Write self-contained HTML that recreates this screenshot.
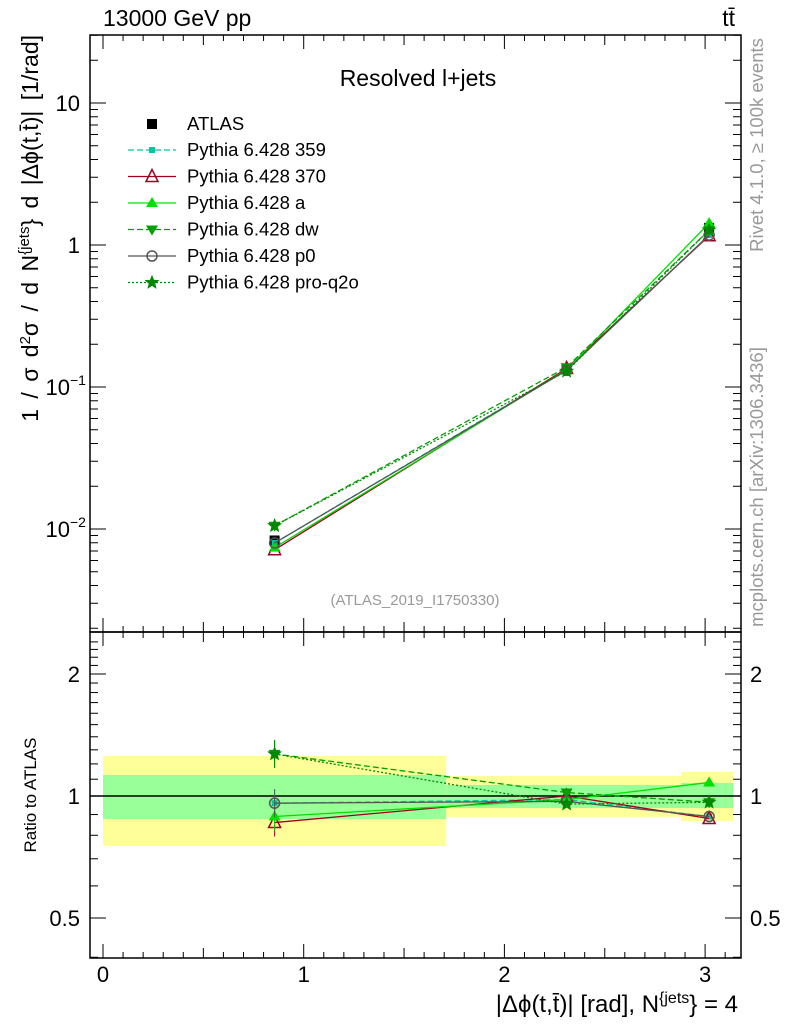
<!DOCTYPE html>
<html><head><meta charset="utf-8"><style>
body{margin:0;background:#fff}
svg{display:block;font-family:"Liberation Sans",sans-serif}
</style></head><body>
<svg id="c" width="786" height="1024" viewBox="0 0 786 1024">
<g id="g"></g>
</svg>
<script>
const xCenters=[0.855,2.31,3.02];
const binEdges=[0,1.71,2.88,3.14];
const atlasVals=[0.0083,0.135,1.32];
const yellowHi=[1.255,1.12,1.146];
const yellowLo=[0.753,0.888,0.868];
const greenHi=[1.127,1.065,1.077];
const greenLo=[0.877,0.934,0.934];
const r359=[0.96,0.98,0.89];
const r370=[0.86,1.0,0.88];
const rA=[0.89,0.98,1.08];
const rDw=[1.27,1.02,0.965];
const rP0=[0.96,0.97,0.89];
const rQ2o=[1.27,0.955,0.965];
const xTicks=[0,1,2,3];
const ratioTicks=[0.5,1,2];

const NS="http://www.w3.org/2000/svg";
const G=document.getElementById('g');
const L=90,R=741,T=35,MB=632,RB=958;
const X=v=>103+v*200.7;
const YM=v=>245-142*Math.log10(v);
const YR=v=>796-122*Math.log2(v);
function el(t,a,p){const e=document.createElementNS(NS,t);for(const k in a)e.setAttribute(k,a[k]);(p||G).appendChild(e);return e;}
function txt(s,a){const e=el('text',a);e.textContent=s;return e;}

for(let i=0;i<3;i++){
 const b=el('rect',{x:X(binEdges[i]),y:YR(yellowHi[i]),width:X(binEdges[i+1])-X(binEdges[i]),height:YR(yellowLo[i])-YR(yellowHi[i]),fill:'#ffff99'});
 
 
 const g2=el('rect',{x:X(binEdges[i]),y:YR(greenHi[i]),width:X(binEdges[i+1])-X(binEdges[i]),height:YR(greenLo[i])-YR(greenHi[i]),fill:'#99ff99'});
 
 
}
el('line',{x1:L,x2:R,y1:796,y2:796,stroke:'#000','stroke-width':1.5});

el('rect',{x:L,y:T,width:R-L,height:MB-T,fill:'none',stroke:'#000','stroke-width':1.5});
el('rect',{x:L,y:MB,width:R-L,height:RB-MB,fill:'none',stroke:'#000','stroke-width':1.5});

for(let k=0;k<=31;k++){const v=k/10,x=X(v);if(x>R)break;const len=k%10==0?14:(k%5==0?10:6);
 [[MB,MB-len],[T,T+len],[RB,RB-len],[MB,MB+len]].forEach(([a,b])=>el('line',{x1:x,x2:x,y1:a,y2:b,stroke:'#000'}));}
xTicks.forEach(v=>{const t=txt(v,{x:X(v),y:982,'font-size':22,'text-anchor':'middle'});});

for(let d=-3;d<=1;d++)for(let m=1;m<10;m++){const v=m*Math.pow(10,d),y=YM(v);if(y<T||y>MB)continue;const len=m==1?16:8;
 el('line',{x1:L,x2:L+len,y1:y,y2:y,stroke:'#000'});el('line',{x1:R,x2:R-len,y1:y,y2:y,stroke:'#000'});}
[[10,'10'],[1,'1']].forEach(([v,s])=>{txt(s,{x:80,y:YM(v)+8,'font-size':22,'text-anchor':'end'});});
[[0.1,'−1'],[0.01,'−2']].forEach(([v,s])=>{txt('10',{x:70,y:YM(v)+8,'font-size':22,'text-anchor':'end'});txt(s,{x:70,y:YM(v)-2,'font-size':14,'text-anchor':'start'});});

for(let v=0.4;v<=2.5;v+=0.1){const vv=Math.round(v*10)/10;const y=YR(vv);if(y<MB||y>RB)continue;const maj=[0.5,1,2].includes(vv);const len=maj?16:8;
 el('line',{x1:L,x2:L+len,y1:y,y2:y,stroke:'#000'});el('line',{x1:R,x2:R-len,y1:y,y2:y,stroke:'#000'});}
ratioTicks.forEach(v=>{txt(v,{x:80,y:YR(v)+8,'font-size':22,'text-anchor':'end'});txt(v,{x:750,y:YR(v)+8,'font-size':22});});

const series=[
 {n:'359',r:r359,c:'#00c8a0',dash:'6,3',m:'sq'},
 {n:'370',r:r370,c:'#a00020',dash:'',m:'tri-o'},
 {n:'a',r:rA,c:'#00e000',dash:'',m:'tri'},
 {n:'dw',r:rDw,c:'#00a000',dash:'6,3',m:'tri-d'},
 {n:'p0',r:rP0,c:'#555',dash:'',m:'circ'},
 {n:'pro-q2o',r:rQ2o,c:'#008800',dash:'2,2',m:'star'}];
function marker(m,x,y,c,s){s=s||6;
 if(m=='sq')return el('rect',{x:x-3,y:y-3,width:6,height:6,fill:c});
 if(m=='tri-o')return el('polygon',{points:`${x},${y-s-1} ${x-s},${y+s-1} ${x+s},${y+s-1}`,fill:'none',stroke:c,'stroke-width':1.5});
 if(m=='tri')return el('polygon',{points:`${x},${y-s} ${x-s},${y+s-2} ${x+s},${y+s-2}`,fill:c});
 if(m=='tri-d')return el('polygon',{points:`${x},${y+s} ${x-s},${y-s+2} ${x+s},${y-s+2}`,fill:c});
 if(m=='circ')return el('circle',{cx:x,cy:y,r:5,fill:'none',stroke:c,'stroke-width':1.5});
 if(m=='star'){let p=[];for(let i=0;i<10;i++){const a=-Math.PI/2+i*Math.PI/5,rr=i%2?2.8:6.5;p.push((x+rr*Math.cos(a)).toFixed(1)+','+(y+rr*Math.sin(a)).toFixed(1));}return el('polygon',{points:p.join(' '),fill:c,stroke:c});}
 if(m=='atlas')return el('rect',{x:x-5,y:y-5,width:10,height:10,fill:'#000'});
}
atlasVals.forEach((v,i)=>{const m=marker('atlas',X(xCenters[i]),YM(v));});
series.forEach(s=>{
 const pm=xCenters.map((x,i)=>X(x)+','+YM(atlasVals[i]*s.r[i])).join(' ');
 const l1=el('polyline',{points:pm,fill:'none',stroke:s.c,'stroke-width':1.3,'stroke-dasharray':s.dash});
 
 
 const pr=xCenters.map((x,i)=>X(x)+','+YR(s.r[i])).join(' ');
 const l2=el('polyline',{points:pr,fill:'none',stroke:s.c,'stroke-width':1.3,'stroke-dasharray':s.dash});
 
 
 xCenters.forEach((x,i)=>{
  const a=marker(s.m,X(x),YM(atlasVals[i]*s.r[i]),s.c);
  if(i==0)el('line',{x1:X(x),x2:X(x),y1:YR(s.r[i])-14,y2:YR(s.r[i])+14,stroke:s.c});
  const b=marker(s.m,X(x),YR(s.r[i]),s.c);
 });
});

const lg=el('g',{});
txt('Resolved l+jets',{x:418,y:86,'font-size':23,'text-anchor':'middle'});
marker('atlas',152,124);txt('ATLAS',{x:187,y:130,'font-size':18.5});
series.forEach((s,i)=>{const y=150+i*26.5;
 el('line',{x1:128,x2:176,y1:y,y2:y,stroke:s.c,'stroke-width':1.3,'stroke-dasharray':s.dash});
 marker(s.m,152,y,s.c);
 const t=txt('Pythia 6.428 '+s.n,{x:187,y:y+6,'font-size':18.5});});

txt('13000 GeV pp',{x:103,y:26,'font-size':23});
txt('tt̄',{x:735,y:26,'font-size':23,'text-anchor':'end'});
txt('(ATLAS_2019_I1750330)',{x:415,y:605,'font-size':15,fill:'#999','text-anchor':'middle'});
txt('Rivet 4.1.0, ≥ 100k events',{x:0,y:0,'font-size':18.5,fill:'#999','text-anchor':'middle',transform:'translate(763,145) rotate(-90)'});
txt('mcplots.cern.ch [arXiv:1306.3436]',{x:0,y:0,'font-size':18.5,fill:'#999','text-anchor':'middle',transform:'translate(763,487) rotate(-90)'});
const yt=txt('',{x:0,y:0,'font-size':23,'text-anchor':'end',transform:'translate(38,35) rotate(-90)'});
yt.innerHTML='1 / σ d<tspan font-size="15" dy="-8">2</tspan><tspan dy="8">σ / d N</tspan><tspan font-size="15" dy="-9">{jets</tspan><tspan dy="9">} d |Δϕ(t,t̄)| [1/rad]</tspan>';
yt.setAttribute('word-spacing','4');

const rt=txt('Ratio to ATLAS',{x:0,y:0,'font-size':17,'text-anchor':'middle',transform:'translate(36,795) rotate(-90)'});

const xt=txt('',{x:738,y:1012,'font-size':24,'text-anchor':'end'});
xt.innerHTML='|Δϕ(t,t̄)| [rad], N<tspan font-size="16" dy="-9">{jets</tspan><tspan dy="9">} = 4</tspan>';

</script>
</body></html>
